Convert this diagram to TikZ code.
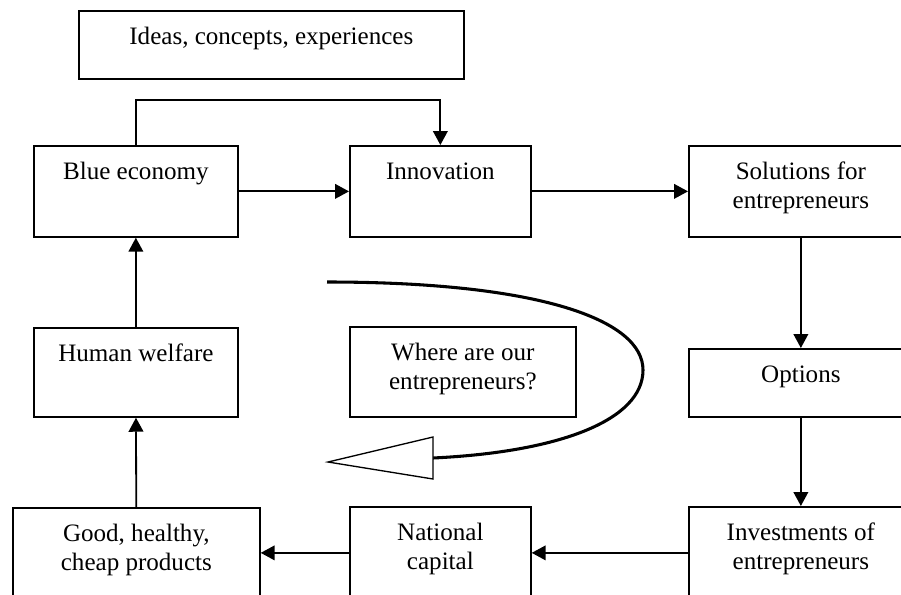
\documentclass[tikz,border=0pt]{standalone}
\usepackage{fontspec}
\setmainfont{Liberation Serif}
\usepackage{tikz}
\usetikzlibrary{arrows.meta,positioning}
\newlength\pxu
\setlength\pxu{0.75pt}
\newcommand\BoxText[3]{\parbox[c][#2\pxu][t]{#1\pxu}{\centering\rule{0pt}{25.5pt}#3}}
\tikzset{%
  BoxStyle/.style={draw,line width=1.3pt,anchor=north west,inner sep=0pt,
    font=\fontsize{18.8}{21.4}\selectfont},
  LinkStyle/.style={line width=1.35pt,-{Triangle[length=10.5pt,width=11pt]}}
}

\begin{document}
\begin{tikzpicture}[x=0.75pt,y=-0.75pt]
  \useasboundingbox (0,0) rectangle (901,594);
  \clip (0,0) rectangle (901,594);
  % top row
  \node[BoxStyle] (ideas) at (78,10) {\BoxText{385}{68}{Ideas, concepts, experiences}};
  \node[BoxStyle] (blue) at (33,145) {\BoxText{204}{91}{Blue economy}};
  \node[BoxStyle] (innov) at (349,145) {\BoxText{181}{91}{Innovation}};
  \node[BoxStyle] (solut) at (688,145) {\BoxText{224}{91}{Solutions for\\entrepreneurs}};
  % middle row
  \node[BoxStyle] (welfare) at (33,327) {\BoxText{204}{89}{Human welfare}};
  \node[BoxStyle] (where) at (349,326) {\BoxText{226}{90}{Where are our\\entrepreneurs?}};
  \node[BoxStyle] (options) at (688,348) {\BoxText{224}{68}{Options}};
  % bottom row
  \node[BoxStyle] (good) at (12,507) {\BoxText{247}{90}{Good, healthy,\\cheap products}};
  \node[BoxStyle] (capital) at (349,506) {\BoxText{181}{92}{National\\capital}};
  \node[BoxStyle] (invest) at (688,506) {\BoxText{224}{92}{Investments of\\entrepreneurs}};

  \draw[LinkStyle] (blue) -- (innov);
  \draw[LinkStyle] (innov) -- (solut);
  \draw[LinkStyle] (solut) -- (options);
  \draw[LinkStyle] (options) -- (invest);
  \draw[LinkStyle] (invest) -- (capital);
  \draw[LinkStyle] (capital) -- (good);
  \draw[LinkStyle] (good) -- (welfare);
  \draw[LinkStyle] (welfare) -- (blue);
  \draw[LinkStyle] (blue.north) -- ++(0,-45) -| (innov.north);

  % loop round the question
  \coordinate (loopstart) at (327,282);
  \coordinate (loopturn) at (643,370);
  \coordinate (loopend) at (433,458);
  \draw[line width=2.3pt] (loopstart) .. controls (540,282) and (643,320) .. (loopturn)
    .. controls (643,420) and (560,452) .. (loopend);
  \draw[line width=1pt,fill=white] (433,437) -- (328,462) -- (433,479) -- cycle;
\end{tikzpicture}
\end{document}
